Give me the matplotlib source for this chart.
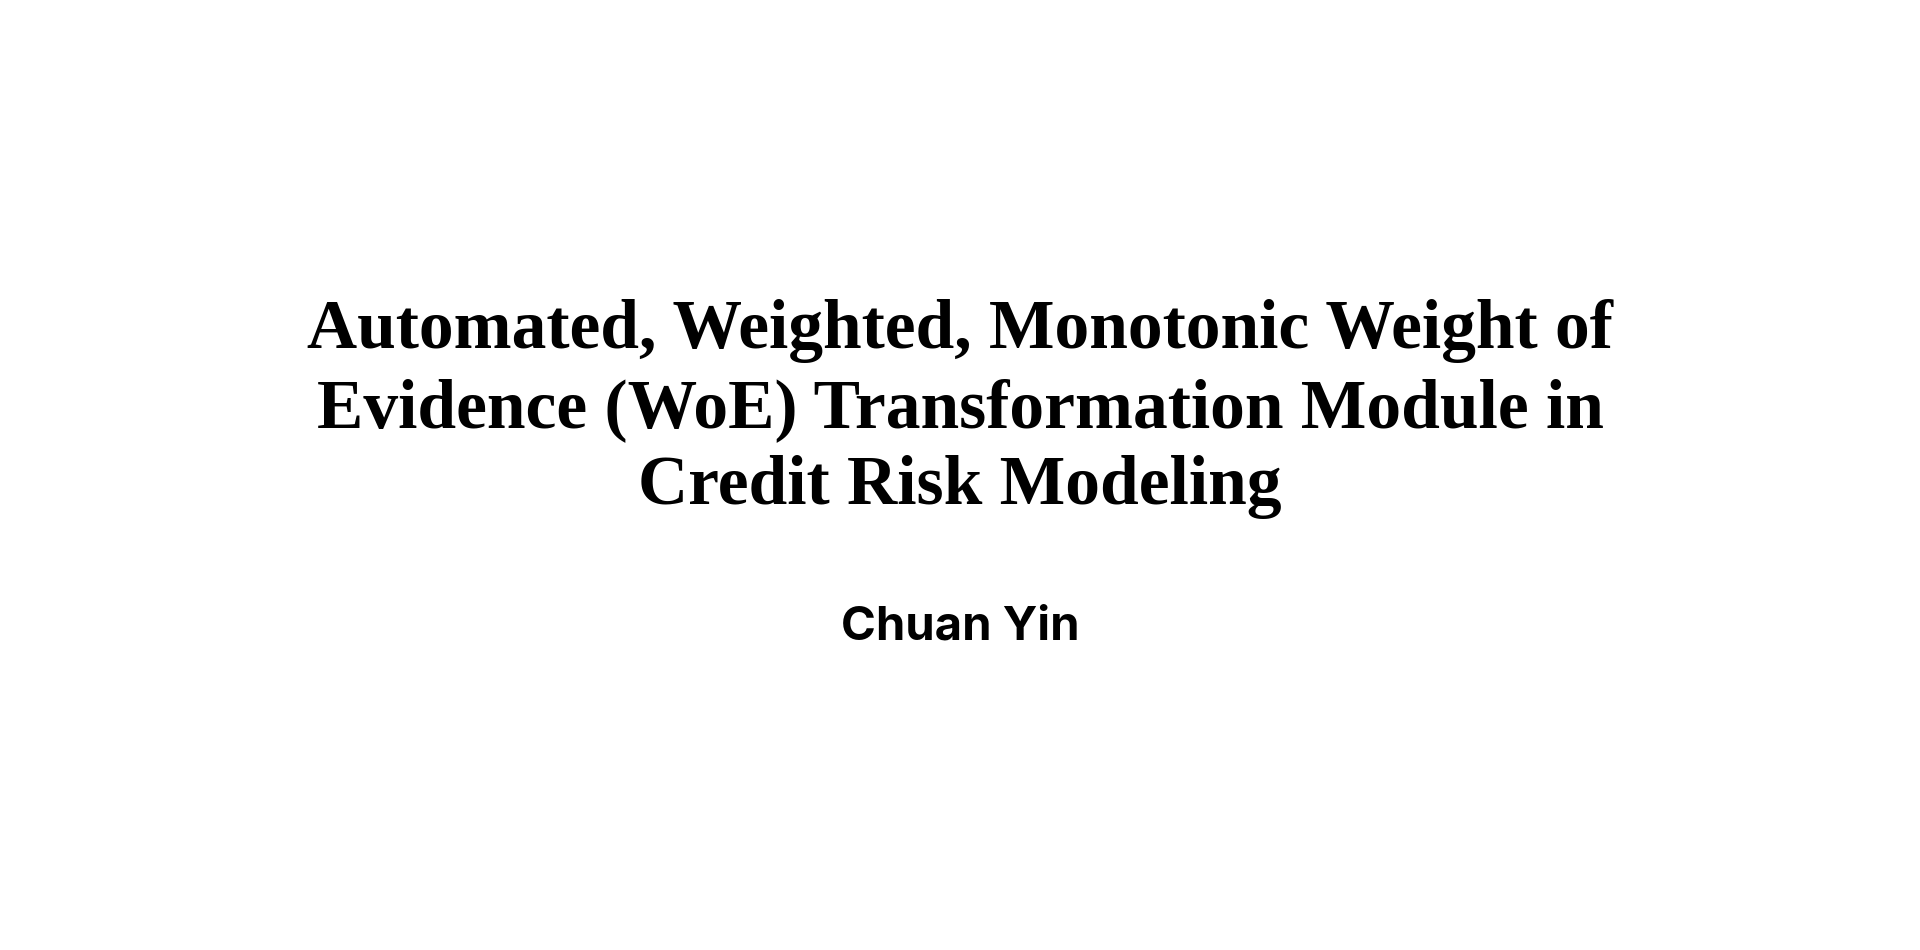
import matplotlib
matplotlib.use("Agg")
import matplotlib.pyplot as plt

title_lines = ["Automated, Weighted, Monotonic Weight of",
               "Evidence (WoE) Transformation Module in",
               "Credit Risk Modeling"]
author = "Chuan Yin"

fig = plt.figure(figsize=(19.2, 9.5), dpi=100)
fig.patch.set_facecolor("white")
ys = [1 - 331/950, 1 - 410/950, 1 - 487/950]
for line, y in zip(title_lines, ys):
    fig.text(0.5, y, line, ha="center", va="center", fontsize=50,
             fontweight="bold", family=["Liberation Serif", "DejaVu Serif"], color="#000000")
fig.text(0.5, 1 - 627/950, author, ha="center", va="center", fontsize=34,
         fontweight="bold", family=["Inter", "Roboto", "DejaVu Sans"], color="#000000")
fig.savefig("out.png", dpi=100, facecolor="white")
